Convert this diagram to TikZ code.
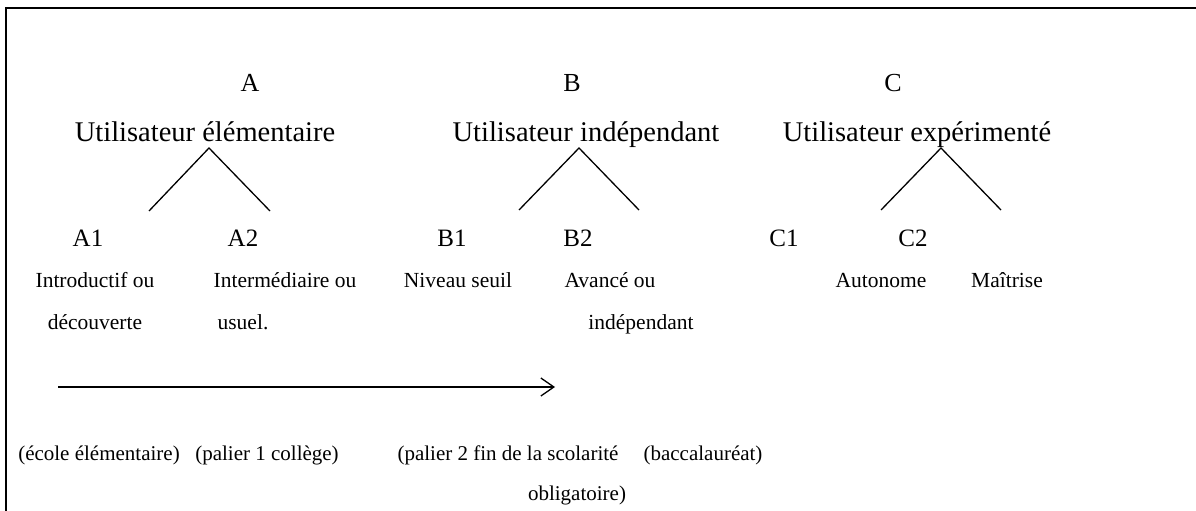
\documentclass[tikz,border=0pt]{standalone}
\usepackage{fontspec}
\setmainfont{Liberation Serif}
\usetikzlibrary{arrows.meta}
\begin{document}
\begin{tikzpicture}[x=1pt,y=-1pt,>={Straight Barb[length=13pt,width=18pt,line width=1.3pt]}]
      \tikzset{
        grp/.style={anchor=base, inner sep=0pt, font=\fontsize{26}{30}\selectfont},
        user/.style={anchor=base, inner sep=0pt, font=\fontsize{28.5}{34}\selectfont},
        lvl/.style={anchor=base, inner sep=0pt, font=\fontsize{25}{30}\selectfont},
        desc/.style={anchor=base, inner sep=0pt, font=\fontsize{21.5}{26}\selectfont},
        note/.style={anchor=base, inner sep=0pt, font=\fontsize{21}{25}\selectfont},
        branch/.style={line width=1.3pt}}
      \useasboundingbox (0,0) rectangle (1196,511);
      \draw[line width=2.2pt] (6,511) -- (6,8) -- (1196,8);
      % the three groups
      \node[grp] (gA) at (250,91) {A};
      \node[grp] (gB) at (572,91) {B};
      \node[grp] (gC) at (893,91) {C};
      \node[user] (uA) at (205,141) {Utilisateur élémentaire};
      \node[user] (uB) at (586,141) {Utilisateur indépendant};
      \node[user] (uC) at (917,141) {Utilisateur expérimenté};
      % branches
      \coordinate (topA) at (209,148);
      \coordinate (topB) at (579,148);
      \coordinate (topC) at (941,148);
      \coordinate (endA1) at (149,211);
      \coordinate (endA2) at (270,211);
      \coordinate (endB1) at (519,210);
      \coordinate (endB2) at (639,210);
      \coordinate (endC1) at (881,210);
      \coordinate (endC2) at (1001,210);
      \draw[branch] (endA1) -- (topA) -- (endA2);
      \draw[branch] (endB1) -- (topB) -- (endB2);
      \draw[branch] (endC1) -- (topC) -- (endC2);
      % levels
      \node[lvl] (A1) at (88,246) {A1};
      \node[lvl] (A2) at (243,246) {A2};
      \node[lvl] (B1) at (452,246) {B1};
      \node[lvl] (B2) at (578,246) {B2};
      \node[lvl] (C1) at (784,246) {C1};
      \node[lvl] (C2) at (913,246) {C2};
      \node[desc] (dA1) at (95,287) {Introductif ou};
      \node[desc] (dA2) at (285,287) {Intermédiaire ou};
      \node[desc] (dB1) at (458,287) {Niveau seuil};
      \node[desc] (dB2) at (610,287) {Avancé ou};
      \node[desc] (dC1) at (881,287) {Autonome};
      \node[desc] (dC2) at (1007,287) {Maîtrise};
      \node[desc] (eA1) at (95,329) {découverte};
      \node[desc] (eA2) at (243,329) {usuel.};
      \node[desc] (eB2) at (641,329) {indépendant};
      % progression
      \coordinate (from) at (58,387);
      \coordinate (to) at (555,387);
      \draw[->, line width=1.3pt] (from) -- (to);
      \node[note] (ecole) at (99,460) {(école élémentaire)};
      \node[note] (pal1) at (267,460) {(palier 1 collège)};
      \node[note] (pal2) at (508,460) {(palier 2 fin de la scolarité};
      \node[note] (bac) at (703,460) {(baccalauréat)};
      \node[note] (oblig) at (577,500) {obligatoire)};
    \end{tikzpicture}
\end{document}
